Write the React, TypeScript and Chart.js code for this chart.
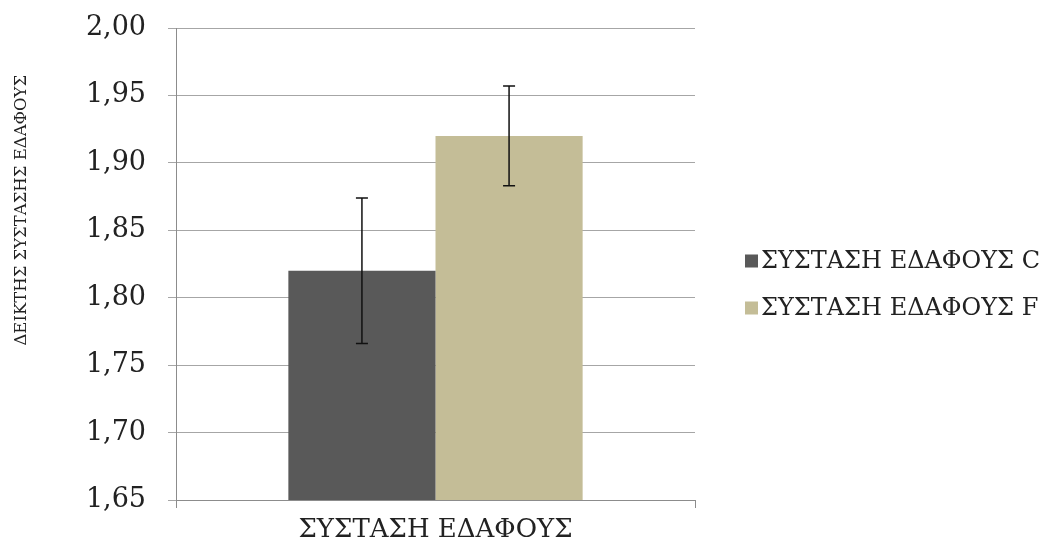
import React, { useEffect, useRef } from 'react';
import { Chart, registerables } from 'chart.js';

Chart.register(...registerables);

const categories = ['ΣΥΣΤΑΣΗ ΕΔΑΦΟΥΣ'];
const seriesNames = ['ΣΥΣΤΑΣΗ ΕΔΑΦΟΥΣ C', 'ΣΥΣΤΑΣΗ ΕΔΑΦΟΥΣ F'];
const valuesC = [1.82];
const valuesF = [1.92];
const errorC = [0.054];
const errorF = [0.037];
const seriesColors = ['#595959', '#C4BD97'];
const yMin = 1.65;
const yMax = 2.0;
const yStep = 0.05;
const yAxisTitle = 'ΔΕΙΚΤΗΣ ΣΥΣΤΑΣΗΣ ΕΔΑΦΟΥΣ';

const W = 1059;
const H = 549;
const SERIF = '"DejaVu Serif", serif';

const errorBarPlugin = {
  id: 'errorBars',
  afterDatasetsDraw(chart: any) {
    const ctx = chart.ctx;
    const yScale = chart.scales.y;
    chart.data.datasets.forEach((ds: any, i: number) => {
      const meta = chart.getDatasetMeta(i);
      meta.data.forEach((el: any, j: number) => {
        const v = ds.data[j];
        const e = ds.errors[j];
        const yTop = yScale.getPixelForValue(v + e);
        const yBot = yScale.getPixelForValue(v - e);
        const x = el.x;
        ctx.save();
        ctx.strokeStyle = '#111';
        ctx.lineWidth = 1.5;
        ctx.beginPath();
        ctx.moveTo(x, yTop);
        ctx.lineTo(x, yBot);
        ctx.moveTo(x - 6, yTop);
        ctx.lineTo(x + 6, yTop);
        ctx.moveTo(x - 6, yBot);
        ctx.lineTo(x + 6, yBot);
        ctx.stroke();
        ctx.restore();
      });
    });
  },
};

const decorPlugin = {
  id: 'decor',
  afterDraw(chart: any) {
    const ctx = chart.ctx;
    const area = chart.chartArea;
    ctx.save();
    // y axis title
    ctx.fillStyle = '#222';
    ctx.font = `16.5px ${SERIF}`;
    ctx.textAlign = 'center';
    ctx.textBaseline = 'middle';
    ctx.translate(22, area.top + (area.bottom - area.top) * 0.386);
    ctx.rotate(-Math.PI / 2);
    ctx.fillText(yAxisTitle, 0, 0);
    ctx.restore();

    // legend
    ctx.save();
    ctx.font = `24px ${SERIF}`;
    ctx.textAlign = 'left';
    ctx.textBaseline = 'middle';
    const mid = (area.top + area.bottom) / 2;
    const rows = [mid - 3, mid + 44];
    chart.data.datasets.forEach((ds: any, i: number) => {
      const cy = rows[i];
      ctx.fillStyle = ds.backgroundColor;
      ctx.fillRect(area.right + 50, cy - 6.5, 13, 13);
      ctx.fillStyle = '#222';
      ctx.fillText(ds.label, area.right + 66, cy + 1);
    });
    ctx.restore();
  },
};

export default function App() {
  const ref = useRef<HTMLCanvasElement | null>(null);
  useEffect(() => {
    document.body.style.margin = '0';
    const canvas = ref.current!;
    const chart = new Chart(canvas, {
      type: 'bar',
      data: {
        labels: categories,
        datasets: [
          {
            label: seriesNames[0],
            data: valuesC,
            errors: errorC,
            backgroundColor: seriesColors[0],
            categoryPercentage: 0.567,
            barPercentage: 1.0,
          } as any,
          {
            label: seriesNames[1],
            data: valuesF,
            errors: errorF,
            backgroundColor: seriesColors[1],
            categoryPercentage: 0.567,
            barPercentage: 1.0,
          } as any,
        ],
      },
      options: {
        responsive: false,
        animation: false,
        devicePixelRatio: 1,
        layout: { padding: { left: 0, top: 28, right: 364, bottom: 0 } },
        plugins: {
          legend: { display: false },
          tooltip: { enabled: false },
          title: { display: false },
        },
        scales: {
          x: {
            afterFit: (axis: any) => {
              axis.height = 49;
              axis.paddingLeft = 0;
              axis.paddingRight = 0;
            },
            grid: {
              display: true,
              offset: true,
              drawOnChartArea: false,
              drawTicks: true,
              tickLength: 8,
              color: '#8c8c8c',
            },
            border: { color: '#8c8c8c', width: 1 },
            ticks: {
              color: '#222',
              padding: 7,
              font: { family: SERIF, size: 26 },
            },
          },
          y: {
            min: yMin,
            max: yMax,
            afterFit: (axis: any) => {
              axis.width = 176;
              axis.paddingTop = 0;
              axis.paddingBottom = 0;
            },
            grid: {
              color: '#a6a6a6',
              tickLength: 8,
              drawTicks: true,
            },
            border: { color: '#8c8c8c', width: 1 },
            ticks: {
              stepSize: yStep,
              color: '#222',
              padding: 22,
              font: { family: SERIF, size: 27 },
              callback: (v: any) => Number(v).toFixed(2).replace('.', ','),
            },
          },
        },
      },
      plugins: [errorBarPlugin, decorPlugin],
    });
    return () => chart.destroy();
  }, []);
  return (
    <div style={{ width: W, height: H }}>
      <canvas ref={ref} width={W} height={H} style={{ width: W, height: H, display: 'block' }} />
    </div>
  );
}
